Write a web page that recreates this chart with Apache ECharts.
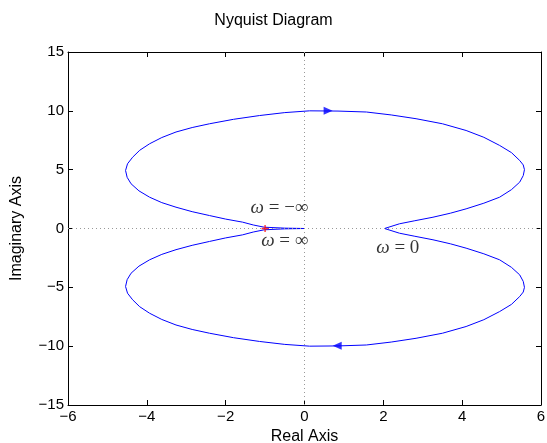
<!DOCTYPE html>
<html>
<head>
    <meta charset="UTF-8">
    <title>Nyquist Diagram</title>
    <style type="text/css">
        html, body {
            margin: 0;
            padding: 0;
            background: #fff;
        }

        #chart {
            width: 547px;
            height: 443px;
        }
    </style>
    <script type="text/javascript" src="https://cdn.jsdelivr.net/npm/echarts@6/dist/echarts.min.js"></script>
</head>
<body>
<div id="chart"></div>
<script type="text/javascript">
    // negative frequencies: from w = -inf (origin) round the upper lobe to w = 0
    var reNeg = [0, -0.5, -1.02, -1.3, -1.57, -2.0, -2.41, -2.85, -3.26, -3.62, -3.93, -4.2, -4.4, -4.5, -4.54,
        -4.49, -4.36, -4.18, -3.93, -3.62, -3.26, -2.85, -2.41, -1.8, -1.14, -0.5, 0.13, 0.85, 1.57, 2.2,
        2.83, 3.5, 4.1, 4.55, 4.95, 5.25, 5.46, 5.55, 5.58, 5.55, 5.46, 5.25, 4.95, 4.55, 4.1, 3.7, 3.26,
        2.8, 2.41, 2.03];
    var imNeg = [0, 0.03, 0.11, 0.3, 0.54, 0.8, 1.1, 1.43, 1.81, 2.2, 2.66, 3.2, 3.8, 4.35, 4.93,
        5.5, 6.06, 6.65, 7.2, 7.73, 8.2, 8.58, 8.9, 9.28, 9.6, 9.85, 10.0, 9.98, 9.9, 9.65,
        9.33, 8.9, 8.33, 7.75, 7.06, 6.45, 5.78, 5.4, 5.0, 4.5, 3.94, 3.3, 2.66, 2.15, 1.67, 1.3, 0.96,
        0.66, 0.4, 0];
    // positive frequencies: from w = 0 round the lower lobe to w = +inf (origin)
    var rePos = [2.03, 2.41, 2.8, 3.26, 3.7, 4.1, 4.55, 4.95, 5.25, 5.46, 5.55, 5.58, 5.55, 5.46, 5.25,
        4.95, 4.55, 4.1, 3.5, 2.83, 2.2, 1.57, 0.85, 0.13, -0.5, -1.14, -1.8, -2.41, -2.85, -3.26,
        -3.62, -3.93, -4.18, -4.36, -4.49, -4.54, -4.5, -4.4, -4.2, -3.93, -3.62, -3.26, -2.85, -2.41, -2.0,
        -1.57, -1.3, -1.02, -0.5, 0];
    var imPos = [0, -0.4, -0.66, -0.96, -1.3, -1.67, -2.15, -2.66, -3.3, -3.94, -4.5, -5.0, -5.4, -5.78, -6.45,
        -7.06, -7.75, -8.33, -8.9, -9.33, -9.65, -9.9, -9.98, -10.0, -9.85, -9.6, -9.28, -8.9, -8.58, -8.2,
        -7.73, -7.2, -6.65, -6.06, -5.5, -4.93, -4.35, -3.8, -3.2, -2.66, -2.2, -1.8, -1.43, -1.1, -0.8,
        -0.54, -0.3, -0.11, -0.03, 0];

    // direction arrows [re, im, rotation]
    var arrows = [[0.6, 10.0, -90], [0.83, -9.97, 90]];
    // critical point
    var critical = [[-1, 0]];
    // frequency annotations
    var noteText = ['\u03c9 = \u2212\u221e', '\u03c9 = \u221e', '\u03c9 = 0'];
    var noteRe = [-1.37, -1.1, 1.82];
    var noteIm = [1.74, -1.1, -1.66];

    var xTicks = [-6, -4, -2, 0, 2, 4, 6];
    var yTicks = [-15, -10, -5, 0, 5, 10, 15];

    var curve = [];
    for (var i = 0; i < reNeg.length; i++) {
        curve.push([reNeg[i], imNeg[i]]);
    }
    for (var j = 1; j < rePos.length; j++) {
        curve.push([rePos[j], imPos[j]]);
    }
    var notes = [];
    for (var k = 0; k < noteText.length; k++) {
        notes.push({value: [noteRe[k], noteIm[k]], name: noteText[k]});
    }

    var font = '"Liberation Sans", Arial, Helvetica, sans-serif';
    var serif = '"Liberation Serif", "DejaVu Serif", serif';
    var tick = {show: true, inside: true, length: 5, lineStyle: {color: '#000'}};
    var line = {show: true, onZero: false, lineStyle: {color: '#000', width: 1}};

    var chart = echarts.init(document.getElementById('chart'));
    chart.setOption({
        animation: false,
        title: {
            text: 'Nyquist Diagram',
            left: 'center',
            top: 8,
            textStyle: {fontFamily: font, fontSize: 16, fontWeight: 'normal', color: '#000'}
        },
        grid: {left: 68, right: 6, top: 52, bottom: 38, outerBoundsMode: 'none', containLabel: false},
        xAxis: [{
            type: 'value', min: -6, max: 6, interval: 2,
            name: 'Real Axis', nameLocation: 'middle', nameGap: 22,
            nameTextStyle: {fontFamily: font, fontSize: 16, color: '#000'},
            axisLine: line, axisTick: tick, splitLine: {show: false},
            axisLabel: {
                fontFamily: font, fontSize: 15, color: '#000', margin: 4,
                formatter: function (v) {
                    return xTicks.indexOf(v) < 0 ? '' : String(v).replace('-', '\u2212');
                }
            }
        }, {
            type: 'value', min: -6, max: 6, interval: 2, position: 'top',
            axisLine: line, axisTick: tick, axisLabel: {show: false}, splitLine: {show: false}
        }],
        yAxis: [{
            type: 'value', min: -15, max: 15, interval: 5,
            name: 'Imaginary Axis', nameLocation: 'middle', nameGap: 43,
            nameTextStyle: {fontFamily: font, fontSize: 16, color: '#000'},
            axisLine: line, axisTick: tick, splitLine: {show: false},
            axisLabel: {
                fontFamily: font, fontSize: 15, color: '#000', margin: 4,
                formatter: function (v) {
                    return yTicks.indexOf(v) < 0 ? '' : String(v).replace('-', '\u2212');
                }
            }
        }, {
            type: 'value', min: -15, max: 15, interval: 5, position: 'right',
            axisLine: line, axisTick: tick, axisLabel: {show: false}, splitLine: {show: false}
        }],
        series: [{
            type: 'line',
            data: [],
            markLine: {
                silent: true,
                symbol: 'none',
                label: {show: false},
                lineStyle: {type: [1, 3], color: '#999', width: 1},
                data: [{xAxis: 0}, {yAxis: 0}]
            }
        }, {
            type: 'line',
            data: curve,
            showSymbol: false,
            lineStyle: {color: '#0000ff', width: 1},
            z: 3
        }, {
            type: 'scatter',
            data: arrows.map(function (a) {
                return {value: [a[0], a[1]], symbolRotate: a[2]};
            }),
            symbol: 'triangle',
            symbolSize: [8, 9],
            itemStyle: {color: '#0000ff'},
            z: 4
        }, {
            type: 'scatter',
            data: critical,
            symbol: 'path://M4,0H6V10H4Z M0,4H10V6H0Z',
            symbolSize: 7,
            itemStyle: {color: '#ff0000'},
            z: 5
        }, {
            type: 'scatter',
            data: notes,
            symbolSize: 0,
            label: {
                show: true,
                position: 'right',
                distance: 0,
                fontFamily: serif,
                fontSize: 19,
                color: '#000',
                formatter: function (p) {
                    return p.name.replace('\u03c9', '{w|\u03c9}');
                },
                rich: {
                    w: {fontFamily: serif, fontStyle: 'italic', fontSize: 19, color: '#000'}
                }
            },
            z: 6
        }]
    });
</script>
</body>
</html>
